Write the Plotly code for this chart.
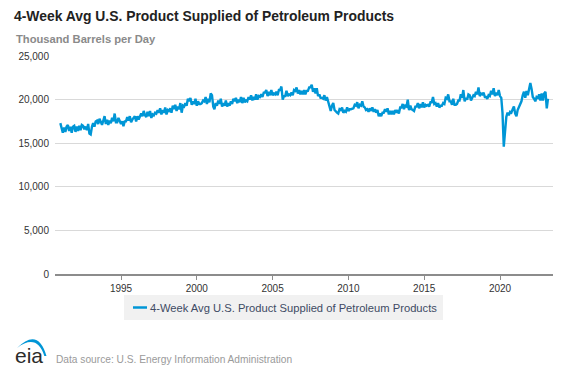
import pandas as pd
import plotly.graph_objects as go

# ---- data (monthly readings of the 4-week average, thousand barrels per day) ----
start_month = "1991-01-01"
product_supplied = [
    17300, 16500, 16200, 16800, 16300, 16900, 17100, 16400, 16900, 16200, 16900, 17000,  # 1991
    16300, 16900, 16400, 17000, 16500, 17100, 17000, 16600, 16900, 16500, 17200, 16100,  # 1992
    16000, 16900, 17300, 16900, 17500, 17600, 17200, 17800, 17300, 17100, 17600, 18100,  # 1993
    17200, 17700, 17100, 17600, 17300, 17900, 17500, 18400, 17400, 17400, 17900, 17500,  # 1994
    17200, 17500, 16950, 17500, 17500, 18000, 17600, 18100, 17400, 17700, 17900, 18100,  # 1995
    17500, 18100, 17700, 18200, 18400, 18100, 18700, 18200, 18000, 18600, 18100, 18700,  # 1996
    17900, 18300, 18200, 18500, 18400, 18800, 18500, 19000, 18300, 18800, 18500, 19100,  # 1997
    18300, 18800, 18700, 19000, 18500, 19300, 18900, 19400, 18700, 19200, 18900, 19600,  # 1998
    18500, 19300, 19200, 19600, 19300, 20100, 19800, 20200, 19400, 19800, 19500, 20100,  # 1999
    19300, 19800, 19500, 19500, 19600, 19900, 19800, 20300, 19500, 20100, 19700, 20700,  # 2000
    20500, 19200, 18900, 19600, 19300, 19900, 19500, 20100, 19200, 19600, 19300, 19900,  # 2001
    19200, 19600, 19300, 19800, 19500, 20100, 19800, 20200, 19600, 20000, 19700, 20300,  # 2002
    19600, 20200, 19700, 19900, 19800, 20300, 20000, 20500, 19900, 20300, 20000, 20600,  # 2003
    20000, 20400, 20300, 20600, 20300, 20800, 20800, 21100, 20400, 20900, 20500, 21100,  # 2004
    20500, 20700, 20600, 20900, 20500, 21100, 21100, 21500, 20000, 20400, 20400, 21000,  # 2005
    20400, 20600, 20500, 20800, 20500, 21100, 21000, 21400, 20700, 21100, 20600, 21000,  # 2006
    20600, 21100, 20600, 21000, 21000, 21400, 21400, 21700, 20900, 21300, 20700, 21300,  # 2007
    20400, 20600, 20200, 20200, 20100, 20500, 19900, 20300, 19800, 19500, 18700, 19300,  # 2008
    19600, 18800, 18600, 18500, 18400, 18900, 18800, 19100, 18500, 18700, 18600, 19100,  # 2009
    18700, 18900, 18900, 19000, 19000, 19400, 19300, 19700, 19000, 19400, 19300, 19800,  # 2010
    19200, 19100, 18800, 18900, 18600, 19000, 18700, 19100, 18600, 18900, 18500, 18800,  # 2011
    18100, 18400, 18100, 18500, 18500, 18900, 18600, 19000, 18300, 18700, 18300, 18700,  # 2012
    18300, 18800, 18500, 18800, 18400, 19100, 19100, 19500, 18900, 19300, 19200, 20000,  # 2013
    18800, 19300, 18900, 18800, 18700, 19200, 19200, 19600, 19000, 19500, 19100, 19700,  # 2014
    19100, 19400, 19300, 19400, 19200, 19700, 19700, 20300, 19500, 19600, 19200, 19600,  # 2015
    19100, 19300, 19300, 19600, 19500, 20200, 20100, 20600, 19800, 19800, 19400, 20100,  # 2016
    19400, 19400, 19500, 19900, 19900, 20600, 20200, 21100, 19800, 20200, 20000, 20600,  # 2017
    20500, 19900, 20300, 20500, 20400, 20900, 20600, 21400, 20400, 20700, 20600, 20800,  # 2018
    20300, 20300, 20100, 20500, 20400, 21000, 20600, 21300, 20400, 20800, 20500, 21100,  # 2019
    20400, 20200, 18500, 14600, 16300, 18000, 18500, 18200, 18600, 18500, 18900, 19200,  # 2020
    18400, 18100, 18800, 19100, 19500, 19800, 20500, 20900, 20200, 21000, 20500, 21300,  # 2021
    21900, 21200, 20300, 20100, 19800, 20300, 20200, 20600, 19900, 20700, 19900, 20700,  # 2022
    20900, 19000, 20100,                                                                  # 2023
]
y_ticks = [0, 5000, 10000, 15000, 20000, 25000]
x_tick_years = ["1995", "2000", "2005", "2010", "2015", "2020"]

series_name = "4-Week Avg U.S. Product Supplied of Petroleum Products"
title_text = "4-Week Avg U.S. Product Supplied of Petroleum Products"
units_text = "Thousand Barrels per Day"
source_text = "Data source: U.S. Energy Information Administration"

dates = pd.date_range(start_month, periods=len(product_supplied), freq="MS")

# ---- layout geometry (pixels, in page coordinates; the page body has an 8px margin) ----
OFF = 8
W, H = 568 - OFF, 380 - OFF
PL, PR, PT, PB = 55, 553, 56, 274          # plot area edges in page pixels
L, R, T, B = PL - OFF, W - (PR - OFF), PT - OFF, H - (PB - OFF)
PW, PH = W - L - R, H - T - B
BLUE = "#0096d6"


def px(x):
    return (x - PL) / PW


def py(y):
    return (PB - y) / PH


fig = go.Figure()
fig.add_trace(go.Scatter(
    x=dates, y=product_supplied, mode="lines", name=series_name,
    line=dict(color=BLUE, width=2.4), showlegend=False,
))

font_family = "Liberation Sans, Arial, sans-serif"

fig.update_layout(
    width=W, height=H,
    margin=dict(l=L, r=R, t=T, b=B, autoexpand=False),
    paper_bgcolor="white", plot_bgcolor="white",
    font=dict(family=font_family, color="#333333", size=10),
    title=dict(text="<b>" + title_text + "</b>", x=(14 - OFF) / W, xanchor="left",
               xref="container", yref="container", y=1 - (16 - OFF) / H, yanchor="middle",
               font=dict(size=13.9, color="#222222", family=font_family)),
    xaxis=dict(
        type="date", range=["1990-08-25", "2023-07-01"],
        tickvals=[pd.Timestamp(y + "-01-01") for y in x_tick_years],
        ticktext=x_tick_years,
        showgrid=False, showline=True, linecolor="#8c8c8c", linewidth=2,
        ticks="outside", ticklen=4, tickcolor="#8c8c8c", tickwidth=1,
        tickfont=dict(size=10, color="#333333"), zeroline=False,
    ),
    yaxis=dict(
        range=[0, 25000], tickvals=y_ticks, tickformat=",",
        showgrid=True, gridcolor="#d9d9d9", gridwidth=1, zeroline=False,
        showline=False, ticks="", ticklabelstandoff=5,
        tickfont=dict(size=10, color="#333333"),
    ),
    hovermode=False,
)

annotations = [
    dict(text="<b>" + units_text + "</b>", x=px(14), y=py(39), xanchor="left", yanchor="middle",
         font=dict(size=11.2, color="#8a8a8a")),
    dict(text=series_name, x=px(148), y=py(307.5), xanchor="left", yanchor="middle",
         font=dict(size=11.2, color="#3e4b64")),
    dict(text="eia", x=px(13), y=py(355), xanchor="left", yanchor="middle",
         font=dict(size=21, color="#2b2b2b")),
    dict(text=source_text, x=px(54), y=py(359), xanchor="left", yanchor="middle",
         font=dict(size=10.2, color="#9a9a9a")),
]
for a in annotations:
    a.update(xref="paper", yref="paper", showarrow=False)
fig.update_layout(annotations=annotations)

# legend box (manual)
shapes = [
    dict(type="rect", x0=px(124), x1=px(443), y0=py(295), y1=py(320),
         fillcolor="#f1f1f1", line=dict(width=0), layer="below"),
    dict(type="line", x0=px(133), x1=px(147), y0=py(307.5), y1=py(307.5),
         line=dict(color=BLUE, width=2.5)),
]
# eia logo swoosh
p = [(17, 348), (38, 327), (46.5, 356), (44.3, 356), (37, 333), (17, 348)]
path = "M {},{} Q {},{} {},{} L {},{} Q {},{} {},{} Z".format(
    *[v for (a, b) in p for v in (px(a), py(b))])
shapes.append(dict(type="path", path=path, fillcolor=BLUE, line=dict(width=0)))
for s in shapes:
    s.update(xref="paper", yref="paper")
fig.update_layout(shapes=shapes)

fig.write_html("out.html")
